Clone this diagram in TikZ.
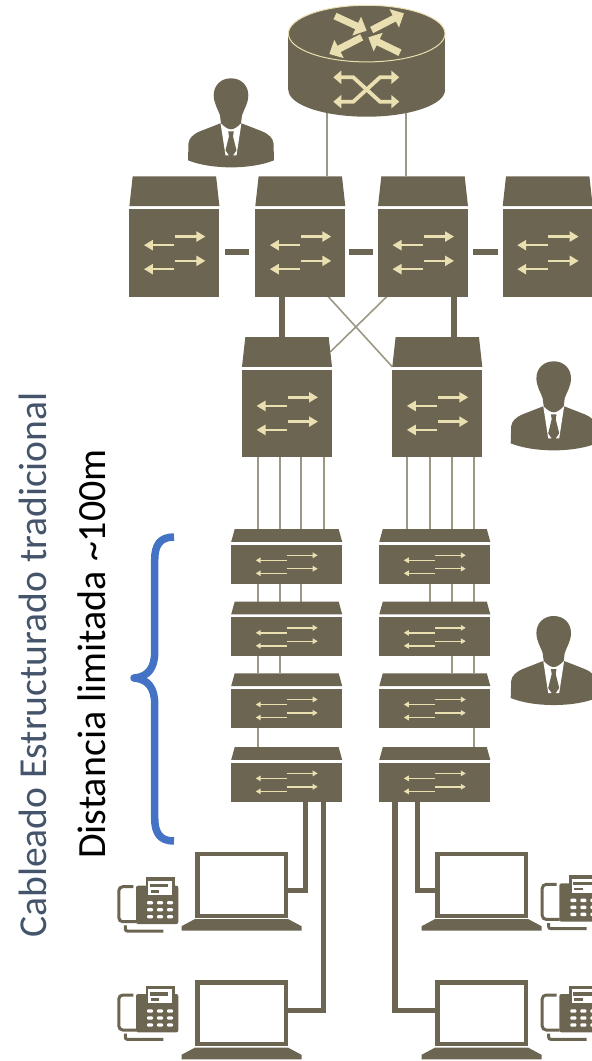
\documentclass[tikz,border=0pt]{standalone}
\usepackage{fontspec}
\setmainfont{Carlito}
\usepackage{xcolor}
\usetikzlibrary{arrows.meta, backgrounds}
\definecolor{swdark}{HTML}{6B6551}
\definecolor{swcream}{HTML}{E9DFB0}
\definecolor{swlink}{HTML}{9C9884}
\definecolor{titleblue}{HTML}{44546A}
\definecolor{braceblue}{HTML}{4472C4}
\tikzset{
  swbody/.style={rectangle, fill=swdark, inner sep=0pt, outer sep=0pt},
  thinlink/.style={swlink, line width=2pt},
  crosslink/.style={swlink, line width=1.6pt},
  thicklink/.style={swdark, line width=6pt},
  shortlink/.style={swdark, line width=6pt},
  wire/.style={swdark, line width=5.5pt},
  bigarrow/.style={swcream, line width=2.6pt, -{Triangle[length=9pt,width=10pt]}},
  smallarrow/.style={swcream, line width=1.4pt, -{Triangle[length=5pt,width=5.5pt]}},
  routerarrow/.style={swcream, line width=7pt, -{Triangle[length=11pt,width=20pt]}},
  crossarrow/.style={swcream, line width=3.8pt, {Triangle[length=8pt,width=13pt]}-{Triangle[length=8pt,width=13pt]}},
  tallsw/.pic={
    \node[swbody, minimum width=90pt, minimum height=87.7pt] (-body) at (0,0) {};
    \fill[swdark] (-45,-46.8) -- (-41.7,-76.5) -- (41.7,-76.5) -- (45,-46.8) -- cycle;
    \coordinate (-roof) at (0,-76.5);
    \coordinate (-roofe) at (43.3,-61.7);
    \coordinate (-roofbl) at (-45,-46.8);
    \draw[bigarrow] (0.5,-16.3) -- (31,-16.3);
    \draw[bigarrow] (0.5,8) -- (31,8);
    \draw[bigarrow] (0,-7.7) -- (-30.5,-7.7);
    \draw[bigarrow] (0,16.3) -- (-30.5,16.3);
  },
  accesssw/.pic={
    \node[swbody, minimum width=111pt, minimum height=39pt] (-body) at (0,0) {};
    \fill[swdark] (-55.5,-22.5) -- (-52,-35.2) -- (52,-35.2) -- (55.5,-22.5) -- cycle;
    \coordinate (-roof) at (0,-35.2);
    \draw[smallarrow] (0,-9) -- (31,-9);
    \draw[smallarrow] (0,4.4) -- (31,4.4);
    \draw[smallarrow] (0,-4) -- (-31,-4);
    \draw[smallarrow] (0,9) -- (-31,9);
  },
  laptop/.pic={
    \node[rectangle, draw=swdark, fill=white, line width=4.2pt, inner sep=0pt, outer sep=0pt,
      minimum width=88.2pt, minimum height=61.8pt] (-screen) at (0,0) {};
    \fill[swdark] (-60,46) -- (-60,41.5) -- (-46.5,34.3) -- (46.5,34.3) -- (60,41.5) -- (60,46) -- cycle;
  },
  deskphone/.pic={
    \fill[swdark, rounded corners=2pt] (18.7,8.4) rectangle (61,46.7);
    \draw[swdark, line width=3pt, rounded corners=4pt] (16,9.4) -- (1.5,9.4) -- (1.5,44.4) -- (19,44.4);
    \draw[swdark, line width=3pt, rounded corners=2pt] (8,48) -- (8,53.7) -- (46,53.7);
    \fill[swdark] (28.7,0) rectangle (57.4,19.4);
    \fill[white] (31,3.7) rectangle (54.4,17.7);
    \fill[swdark] (32.7,6.7) rectangle (51,10);
    \fill[swdark] (33.4,12.7) rectangle (42,15.4);
    \foreach \kx in {32.7,42.7,52.7}
      \foreach \ky in {25.4,32.4,39.4}
        \fill[white, rounded corners=1pt] (\kx-3,\ky-1.7) rectangle (\kx+3,\ky+1.7);
  },
  person/.pic={
    \fill[swdark] (-43,82) -- (-42.5,65) .. controls (-42,60) and (-38,56) .. (-31,53) -- (-10.5,45) -- (10.5,45) -- (31,53)
      .. controls (38,56) and (42,60) .. (42.5,65) -- (43,82) .. controls (20,91.4) and (-20,91.4) .. (-43,82) -- cycle;
    \fill[white] (-10.5,44.5) -- (-5.5,77) -- (5.5,77) -- (10.5,44.5) -- cycle;
    \fill[swdark] (-2.8,53) -- (2.8,53) -- (2,58) -- (5.5,72) -- (0,80) -- (-5.5,72) -- (-2,58) -- cycle;
    \fill[swdark] (0,0) .. controls (10,0) and (17.3,7) .. (17.3,17) .. controls (17.3,25) and (13,31) .. (11,37) -- (10,45)
      .. controls (6,49) and (3,51) .. (0,51) .. controls (-3,51) and (-6,49) .. (-10,45) -- (-11,37)
      .. controls (-13,31) and (-17.3,25) .. (-17.3,17) .. controls (-17.3,7) and (-10,0) .. (0,0) -- cycle;
  }
}
\begin{document}
\begin{tikzpicture}[x=1pt, y=-1pt]
    \clip (0,0) rectangle (592,1061);
    \fill[swdark] (366.7,90) ellipse [x radius=78.3, y radius=26.7];
    \node[swbody, minimum width=156.6pt, minimum height=56.4pt] (router) at (366.7,61.8) {};
    \fill[swdark, draw=swcream, line width=1pt] (366.7,33.6) ellipse [x radius=78.3, y radius=28.3];
    \draw[routerarrow] (335,16) -- (366.7,30.7);
    \draw[routerarrow] (371.7,30) -- (404,13.3);
    \draw[routerarrow] (361.7,37.3) -- (329.3,54);
    \draw[routerarrow] (400,52.7) -- (368.3,37.3);
    \draw[crossarrow] (333.3,77.3) -- (353.3,77.3) -- (380,101.7) -- (399.3,101.7);
    \draw[crossarrow] (333.3,101.7) -- (353.3,101.7) -- (380,77.3) -- (399.3,77.3);

    \pic (manager) at (231,78.3) {person};
    \pic (distadmin) at (553.7,361.3) {person};
    \pic (accessadmin) at (553.7,616) {person};

    \pic (core1) at (174.4,252.85) {tallsw};
    \pic (core2) at (300.3,252.85) {tallsw};
    \pic (core3) at (423,252.85) {tallsw};
    \pic (core4) at (547.7,252.85) {tallsw};
    \pic (dist1) at (287,413.6) {tallsw};
    \pic (dist2) at (437.3,413.6) {tallsw};

    \pic (accL1) at (286.7,564.3) {accesssw};
    \pic (accL2) at (286.7,636.8) {accesssw};
    \pic (accL3) at (286.7,708.5) {accesssw};
    \pic (accL4) at (286.7,782.4) {accesssw};
    \pic (accR1) at (434.8,564.3) {accesssw};
    \pic (accR2) at (434.8,636.8) {accesssw};
    \pic (accR3) at (434.8,708.5) {accesssw};
    \pic (accR4) at (434.8,782.4) {accesssw};

    \pic (lapL1) at (241.5,884.7) {laptop};
    \pic (lapL2) at (241.5,1013.3) {laptop};
    \pic (lapR1) at (481.6,884.7) {laptop};
    \pic (lapR2) at (481.6,1013.3) {laptop};
    \pic (telL1) at (117.3,877.3) {deskphone};
    \pic (telL2) at (117.3,985.6) {deskphone};
    \pic (telR1) at (540.7,875) {deskphone};
    \pic (telR2) at (540.7,985.6) {deskphone};

    \begin{scope}[on background layer]
        \draw[thinlink] ([xshift=-39.4pt]router.center) -- ([xshift=-39.4pt]router.center |- core2-roof);
        \draw[thinlink] ([xshift=39pt]router.center) -- ([xshift=39pt]router.center |- core3-roof);
        \draw[crosslink] ([xshift=28pt]core2-body.south) -- (dist2-roofbl);
        \draw[crosslink] ([xshift=-36.3pt]core3-body.south) -- (dist1-roofe);
        \draw[thicklink] ([xshift=-18.6pt]core2-body.south) -- ([xshift=-18.6pt]core2-body.south |- dist1-roof);
        \draw[thicklink] ([xshift=31pt]core3-body.south) -- ([xshift=31pt]core3-body.south |- dist2-roof);
        \foreach \ox in {-29,-7,14.6,37.3}
            \draw[thinlink] ([xshift=\ox pt]accL1-roof |- dist1-body.south) -- ([xshift=\ox pt]accL1-roof);
        \foreach \ox in {-27.5,-4.8,17.2,38.9}
            \draw[thinlink] ([xshift=\ox pt]accR1-roof |- dist2-body.south) -- ([xshift=\ox pt]accR1-roof);
        \foreach \ox in {-29,-7,14.6}
            \draw[thinlink] ([xshift=\ox pt]accL1-body.south) -- ([xshift=\ox pt]accL2-roof);
        \foreach \ox in {-29,-7}
            \draw[thinlink] ([xshift=\ox pt]accL2-body.south) -- ([xshift=\ox pt]accL3-roof);
        \draw[thinlink] ([xshift=-29pt]accL3-body.south) -- ([xshift=-29pt]accL4-roof);
        \foreach \ox in {-4.8,17.2,38.9}
            \draw[thinlink] ([xshift=\ox pt]accR1-body.south) -- ([xshift=\ox pt]accR2-roof);
        \foreach \ox in {17.2,38.9}
            \draw[thinlink] ([xshift=\ox pt]accR2-body.south) -- ([xshift=\ox pt]accR3-roof);
        \draw[thinlink] ([xshift=38.9pt]accR3-body.south) -- ([xshift=38.9pt]accR4-roof);
    \end{scope}
    \draw[shortlink] ([xshift=5.3pt,yshift=1.2pt]core1-body.east) -- ([xshift=-6.7pt,yshift=1.2pt]core2-body.west);
    \draw[shortlink] ([xshift=3.4pt,yshift=1.2pt]core2-body.east) -- ([xshift=-5pt,yshift=1.2pt]core3-body.west);
    \draw[shortlink] ([xshift=5pt,yshift=1.2pt]core3-body.east) -- ([xshift=-5pt,yshift=1.2pt]core4-body.west);

    \draw[wire] ([xshift=18.6pt]accL4-body.south) |- ([yshift=-6pt]lapL1-screen.east);
    \draw[wire] ([xshift=36.6pt]accL4-body.south) |- ([yshift=3pt]lapL2-screen.east);
    \draw[wire] ([xshift=-39.8pt]accR4-body.south) |- ([yshift=3pt]lapR2-screen.west);
    \draw[wire] ([xshift=-17.1pt]accR4-body.south) |- ([yshift=-6pt]lapR1-screen.west);

    \draw[braceblue, line width=7.5pt, line join=round] (174,537) .. controls (160,537) and (154.7,545) .. (154.7,560) -- (154.7,652)
      .. controls (154.7,668) and (148,677) .. (134,678) .. controls (148,679) and (154.7,688) .. (154.7,704)
      -- (154.7,818) .. controls (154.7,833) and (160,841) .. (174,841);

    \node[rotate=90, text=titleblue, font=\fontsize{39.6}{44}\selectfont, inner sep=0pt] (title) at (33,665) {Cableado Estructurado tradicional};
    \node[rotate=90, text=black, font=\fontsize{40}{44}\selectfont, inner sep=0pt] (limit) at (92,654) {Distancia limitada \textasciitilde 100m};
\end{tikzpicture}
\end{document}
